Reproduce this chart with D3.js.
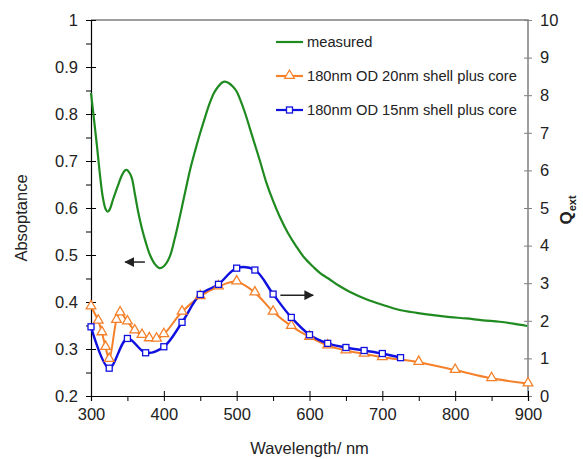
<!DOCTYPE html>
<html>
<head>
<meta charset="utf-8">
<script src="https://cdn.jsdelivr.net/npm/d3@7"></script>
<style>
  html, body { margin: 0; padding: 0; background: #fff; }
  svg { display: block; font-family: Arial, "Liberation Sans", Helvetica, sans-serif; }
</style>
</head>
<body>
<svg id="chart" width="583" height="459"></svg>
<script>
// Measured absorptance spectrum (left axis)
const measuredWavelength = [300, 304, 308, 312, 316, 320, 323, 326, 330, 334, 338, 342, 346, 349, 352, 356, 360, 365, 370, 375, 381, 388, 394, 400, 408, 415, 422, 429, 436, 443, 450, 457, 463, 469, 475, 480, 484, 489, 495, 500, 505, 512, 518, 523, 532, 541, 550, 559, 570, 582, 593, 605, 615, 626, 640, 655, 678, 700, 724, 747, 770, 793, 815, 838, 861, 880, 899];
const measuredAbsorptance = [0.845, 0.79, 0.735, 0.675, 0.625, 0.598, 0.592, 0.598, 0.617, 0.635, 0.652, 0.668, 0.679, 0.681, 0.677, 0.664, 0.632, 0.590, 0.556, 0.528, 0.500, 0.480, 0.472, 0.476, 0.496, 0.535, 0.582, 0.632, 0.681, 0.722, 0.760, 0.795, 0.823, 0.845, 0.859, 0.867, 0.869, 0.866, 0.858, 0.848, 0.830, 0.800, 0.770, 0.745, 0.700, 0.653, 0.615, 0.582, 0.548, 0.518, 0.494, 0.475, 0.461, 0.450, 0.435, 0.422, 0.406, 0.394, 0.383, 0.377, 0.372, 0.368, 0.365, 0.361, 0.358, 0.354, 0.349];

// Calculated extinction efficiency, 20 nm shell (right axis)
const shell20Wavelength = [300, 310, 315, 320, 325, 335, 340, 350, 360, 370, 380, 390, 400, 425, 450, 475, 500, 525, 550, 575, 600, 625, 650, 675, 700, 750, 800, 850, 900];
const shell20Qext = [2.38, 2.0, 1.69, 1.30, 0.98, 2.02, 2.22, 1.98, 1.74, 1.62, 1.53, 1.52, 1.64, 2.24, 2.65, 2.91, 3.04, 2.75, 2.24, 1.86, 1.57, 1.34, 1.21, 1.12, 1.03, 0.90, 0.69, 0.47, 0.33];

// Calculated extinction efficiency, 15 nm shell (right axis)
const shell15Wavelength = [300, 325, 350, 375, 400, 425, 450, 475, 500, 525, 550, 575, 600, 625, 650, 675, 700, 725];
const shell15Qext = [1.84, 0.74, 1.53, 1.15, 1.31, 1.96, 2.70, 2.97, 3.40, 3.35, 2.71, 2.09, 1.63, 1.40, 1.29, 1.21, 1.13, 1.02];

const xTicks = [300, 400, 500, 600, 700, 800, 900];
const leftTicks = [0.2, 0.3, 0.4, 0.5, 0.6, 0.7, 0.8, 0.9, 1];
const rightTicks = [0, 1, 2, 3, 4, 5, 6, 7, 8, 9, 10];
const seriesNames = ["measured", "180nm OD 20nm shell plus core", "180nm OD 15nm shell plus core"];

const colors = { measured: "#1f8a1f", shell20: "#f5802a", shell15: "#1010e0", axis: "#000", frame: "#7f7f7f", arrow: "#222" };

const svg = d3.select("#chart");
const plotLeft = 91, plotRight = 528, plotTop = 20, plotBottom = 396;

const x = d3.scaleLinear().domain([300, 900]).range([plotLeft, plotRight]);
const yL = d3.scaleLinear().domain([0.2, 1]).range([plotBottom, plotTop]);
const yR = d3.scaleLinear().domain([0, 10]).range([plotBottom, plotTop]);

// frame (top and right edges)
svg.append("path")
  .attr("d", `M${plotLeft},${plotTop}H${plotRight}V${plotBottom}`)
  .attr("fill", "none").attr("stroke", colors.frame).attr("stroke-width", 1.5);

// right axis
const rAxis = svg.append("g").attr("transform", `translate(${plotRight},0)`)
  .call(d3.axisRight(yR).tickValues(rightTicks).tickSize(4).tickPadding(8).tickFormat(d3.format("d")));
rAxis.select(".domain").remove();
rAxis.selectAll(".tick line").attr("x1", -4).attr("stroke", colors.frame);
rAxis.selectAll("text").attr("font-size", 16.5).attr("fill", "#222").style("font-family", "Arial, 'Liberation Sans', sans-serif");

// bottom axis: minor ticks then major ticks
const xMinor = svg.append("g").attr("transform", `translate(0,${plotBottom})`)
  .call(d3.axisBottom(x).tickValues(d3.range(350, 900, 100)).tickSize(5).tickFormat(""));
xMinor.select(".domain").remove();
xMinor.selectAll(".tick line").attr("stroke", colors.axis);

const xAxis = svg.append("g").attr("transform", `translate(0,${plotBottom})`)
  .call(d3.axisBottom(x).tickValues(xTicks).tickSize(5).tickPadding(7).tickFormat(d3.format("d")));
xAxis.select(".domain").attr("stroke", colors.axis).attr("stroke-width", 1.2);
xAxis.selectAll(".tick line").attr("y1", -5).attr("stroke", colors.axis);
xAxis.selectAll("text").attr("font-size", 16.5).attr("fill", "#222").style("font-family", "Arial, 'Liberation Sans', sans-serif");

// left axis: minor ticks then major ticks
const yMinor = svg.append("g").attr("transform", `translate(${plotLeft},0)`)
  .call(d3.axisLeft(yL).tickValues(d3.range(0.25, 1, 0.1)).tickSize(5).tickFormat(""));
yMinor.select(".domain").remove();
yMinor.selectAll(".tick line").attr("stroke", colors.axis);

const yAxis = svg.append("g").attr("transform", `translate(${plotLeft},0)`)
  .call(d3.axisLeft(yL).tickValues(leftTicks).tickSize(5).tickPadding(8).tickFormat(d => d3.format("")(+d.toFixed(1))));
yAxis.select(".domain").attr("stroke", colors.axis).attr("stroke-width", 1.2);
yAxis.selectAll(".tick line").attr("x1", 5).attr("stroke", colors.axis);
yAxis.selectAll("text").attr("font-size", 16.5).attr("fill", "#222").style("font-family", "Arial, 'Liberation Sans', sans-serif");

// axis titles
svg.append("text").attr("transform", `translate(27,${(plotTop + plotBottom) / 2 + 10}) rotate(-90)`)
  .attr("text-anchor", "middle").attr("font-size", 16.5).attr("fill", "#222").text("Absoptance");

svg.append("text").attr("x", (plotLeft + plotRight) / 2).attr("y", 454)
  .attr("text-anchor", "middle").attr("font-size", 16.5).attr("fill", "#222").text("Wavelength/ nm");

const qLabel = svg.append("text").attr("transform", `translate(572,${(plotTop + plotBottom) / 2 + 2}) rotate(-90)`)
  .attr("text-anchor", "middle").attr("font-size", 17).attr("font-weight", "bold").attr("fill", "#222");
qLabel.append("tspan").text("Q");
qLabel.append("tspan").attr("font-size", 11).attr("dy", 4).text("ext");

// series
const measured = measuredWavelength.map((w, i) => [w, measuredAbsorptance[i]]);
const shell20 = shell20Wavelength.map((w, i) => [w, shell20Qext[i]]);
const shell15 = shell15Wavelength.map((w, i) => [w, shell15Qext[i]]);

const lineL = d3.line().x(d => x(d[0])).y(d => yL(d[1])).curve(d3.curveCatmullRom.alpha(0.5));
const lineR = d3.line().x(d => x(d[0])).y(d => yR(d[1])).curve(d3.curveCatmullRom.alpha(0.5));

svg.append("path").datum(measured).attr("d", lineL)
  .attr("fill", "none").attr("stroke", colors.measured).attr("stroke-width", 2.2);

svg.append("path").datum(shell20).attr("d", lineR)
  .attr("fill", "none").attr("stroke", colors.shell20).attr("stroke-width", 2);

svg.append("path").datum(shell15).attr("d", lineR)
  .attr("fill", "none").attr("stroke", colors.shell15).attr("stroke-width", 2.4);

const tri = d3.symbol().type(d3.symbolTriangle).size(40);
svg.append("g").selectAll("path").data(shell20).join("path")
  .attr("transform", d => `translate(${x(d[0])},${yR(d[1]) - 0.5})`)
  .attr("d", tri).attr("fill", "#fff").attr("stroke", colors.shell20).attr("stroke-width", 1.3);

svg.append("g").selectAll("rect").data(shell15).join("rect")
  .attr("x", d => x(d[0]) - 3).attr("y", d => yR(d[1]) - 3)
  .attr("width", 6).attr("height", 6)
  .attr("fill", "#fff").attr("stroke", colors.shell15).attr("stroke-width", 1.3);

// arrows indicating which axis each curve belongs to
const defs = svg.append("defs");
defs.append("marker").attr("id", "arrowhead").attr("viewBox", "0 0 10 10")
  .attr("refX", 9).attr("refY", 5).attr("markerWidth", 6.5).attr("markerHeight", 6.5)
  .attr("orient", "auto-start-reverse")
  .append("path").attr("d", "M0,0L10,5L0,10Z").attr("fill", colors.arrow);

svg.append("line").attr("x1", x(374)).attr("x2", x(347)).attr("y1", yL(0.485)).attr("y2", yL(0.485))
  .attr("stroke", colors.arrow).attr("stroke-width", 1.5).attr("marker-end", "url(#arrowhead)");
svg.append("line").attr("x1", x(560)).attr("x2", x(605)).attr("y1", yR(2.68)).attr("y2", yR(2.68))
  .attr("stroke", colors.arrow).attr("stroke-width", 1.5).attr("marker-end", "url(#arrowhead)");

// legend
const legend = svg.append("g");
const legendRows = [
  { name: seriesNames[0], color: colors.measured, marker: null, y: 42 },
  { name: seriesNames[1], color: colors.shell20, marker: "tri", y: 76 },
  { name: seriesNames[2], color: colors.shell15, marker: "sq", y: 110 }
];
legendRows.forEach(r => {
  const g = legend.append("g");
  g.append("line").attr("x1", 276).attr("x2", 303).attr("y1", r.y).attr("y2", r.y)
    .attr("stroke", r.color).attr("stroke-width", 2.2);
  if (r.marker === "tri") {
    g.append("path").attr("transform", `translate(289.5,${r.y - 0.5})`).attr("d", tri)
      .attr("fill", "#fff").attr("stroke", r.color).attr("stroke-width", 1.3);
  } else if (r.marker === "sq") {
    g.append("rect").attr("x", 286.5).attr("y", r.y - 3).attr("width", 6).attr("height", 6)
      .attr("fill", "#fff").attr("stroke", r.color).attr("stroke-width", 1.3);
  }
  g.append("text").attr("x", 307).attr("y", r.y + 5).attr("font-size", 14.7).attr("fill", "#222").text(r.name);
});
</script>
</body>
</html>
